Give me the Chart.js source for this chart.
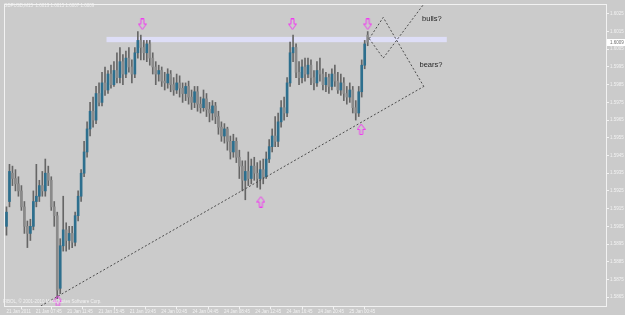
<!DOCTYPE html>
<html>
<head>
<meta charset="utf-8">
<script src="https://cdn.jsdelivr.net/npm/chart.js@4.4.0/dist/chart.umd.min.js"></script>
<style>
  html, body { margin: 0; padding: 0; background: #cbcbcb; }
  #chart { display: block; }
</style>
</head>
<body>
<canvas id="chart" width="625" height="315"></canvas>
<script>
// GBPUSD M15 candles: [open, high, low, close]
const ohlc = [
  [1.5905,1.5916,1.5900,1.5913],[1.5919,1.5940,1.5916,1.5936],[1.5935,1.5939,1.5928,1.5932],[1.5932,1.5937,1.5925,1.5929],
  [1.5929,1.5933,1.5922,1.5925],[1.5925,1.5928,1.5914,1.5916],[1.5916,1.5919,1.5901,1.5905],[1.5905,1.5908,1.5893,1.5901],
  [1.5901,1.5909,1.5897,1.5905],[1.5905,1.5925,1.5903,1.5919],[1.5919,1.5940,1.5916,1.5922],[1.5922,1.5931,1.5919,1.5928],
  [1.5928,1.5936,1.5922,1.5925],[1.5925,1.5943,1.5922,1.5935],[1.5935,1.5939,1.5928,1.5931],[1.5931,1.5933,1.5914,1.5916],
  [1.5916,1.5919,1.5905,1.5911],[1.5911,1.5913,1.5864,1.5869],[1.5870,1.5898,1.5867,1.5894],[1.5894,1.5922,1.5891,1.5903],
  [1.5903,1.5907,1.5891,1.5897],[1.5897,1.5905,1.5892,1.5901],[1.5901,1.5905,1.5893,1.5896],[1.5896,1.5913,1.5894,1.5911],
  [1.5911,1.5925,1.5908,1.5922],[1.5922,1.5937,1.5919,1.5935],[1.5935,1.5953,1.5933,1.5947],[1.5947,1.5964,1.5944,1.5960],
  [1.5960,1.5975,1.5956,1.5970],[1.5970,1.5978,1.5961,1.5965],[1.5965,1.5984,1.5963,1.5980],[1.5980,1.5986,1.5973,1.5975],
  [1.5975,1.5992,1.5973,1.5986],[1.5986,1.5995,1.5979,1.5982],[1.5982,1.5993,1.5980,1.5991],[1.5991,1.5996,1.5983,1.5985],
  [1.5985,1.5998,1.5984,1.5993],[1.5993,1.6003,1.5986,1.5989],[1.5989,1.6006,1.5986,1.5998],[1.5998,1.6002,1.5985,1.5991],
  [1.5991,1.6004,1.5989,1.6000],[1.6000,1.6006,1.5992,1.5995],[1.5995,1.5999,1.5986,1.5991],[1.5991,1.6006,1.5989,1.6003],
  [1.6003,1.6015,1.6000,1.6010],[1.6010,1.6013,1.5999,1.6006],[1.6006,1.6010,1.5999,1.6003],[1.6003,1.6010,1.5998,1.6008],
  [1.6008,1.6010,1.5996,1.6000],[1.6000,1.6003,1.5991,1.5995],[1.5995,1.5998,1.5985,1.5991],[1.5991,1.5996,1.5987,1.5993],
  [1.5993,1.5995,1.5984,1.5987],[1.5987,1.5992,1.5982,1.5986],[1.5986,1.5994,1.5983,1.5991],[1.5991,1.5993,1.5981,1.5985],
  [1.5985,1.5989,1.5979,1.5982],[1.5982,1.5991,1.5980,1.5986],[1.5986,1.5990,1.5978,1.5983],[1.5983,1.5986,1.5975,1.5980],
  [1.5980,1.5986,1.5976,1.5984],[1.5984,1.5987,1.5974,1.5978],[1.5978,1.5982,1.5971,1.5975],[1.5975,1.5984,1.5972,1.5981],
  [1.5981,1.5984,1.5970,1.5974],[1.5974,1.5978,1.5969,1.5972],[1.5972,1.5982,1.5970,1.5977],[1.5977,1.5980,1.5967,1.5971],
  [1.5971,1.5975,1.5964,1.5969],[1.5969,1.5976,1.5965,1.5973],[1.5973,1.5975,1.5963,1.5967],[1.5967,1.5970,1.5957,1.5961],
  [1.5961,1.5964,1.5953,1.5956],[1.5956,1.5963,1.5952,1.5960],[1.5960,1.5961,1.5948,1.5953],[1.5953,1.5956,1.5943,1.5947],
  [1.5947,1.5957,1.5944,1.5953],[1.5953,1.5955,1.5941,1.5944],[1.5944,1.5948,1.5932,1.5939],[1.5939,1.5942,1.5925,1.5931],
  [1.5931,1.5942,1.5920,1.5936],[1.5936,1.5947,1.5928,1.5932],[1.5932,1.5943,1.5929,1.5939],[1.5939,1.5944,1.5931,1.5935],
  [1.5935,1.5941,1.5927,1.5932],[1.5932,1.5942,1.5926,1.5937],[1.5937,1.5943,1.5929,1.5933],[1.5933,1.5947,1.5932,1.5943],
  [1.5943,1.5954,1.5941,1.5950],[1.5950,1.5960,1.5947,1.5956],[1.5956,1.5967,1.5950,1.5953],[1.5953,1.5969,1.5950,1.5964],
  [1.5964,1.5976,1.5961,1.5972],[1.5972,1.5978,1.5965,1.5969],[1.5969,1.5989,1.5967,1.5986],[1.5986,1.6009,1.5984,1.6003],
  [1.6003,1.6013,1.5998,1.6006],[1.6006,1.6008,1.5989,1.5992],[1.5992,1.5998,1.5985,1.5989],[1.5989,1.5999,1.5986,1.5995],
  [1.5995,1.6000,1.5987,1.5991],[1.5991,1.6000,1.5989,1.5996],[1.5996,1.5999,1.5985,1.5989],[1.5989,1.5993,1.5982,1.5986],
  [1.5986,1.5998,1.5984,1.5993],[1.5993,1.6000,1.5987,1.5991],[1.5991,1.5994,1.5982,1.5985],[1.5985,1.5992,1.5981,1.5989],
  [1.5989,1.5991,1.5980,1.5984],[1.5984,1.5994,1.5982,1.5991],[1.5991,1.5996,1.5984,1.5987],[1.5987,1.5992,1.5980,1.5982],
  [1.5982,1.5991,1.5979,1.5986],[1.5986,1.5989,1.5976,1.5980],[1.5980,1.5984,1.5974,1.5978],[1.5978,1.5986,1.5975,1.5982],
  [1.5982,1.5984,1.5969,1.5972],[1.5972,1.5976,1.5965,1.5969],[1.5969,1.5984,1.5967,1.5981],[1.5981,1.5999,1.5978,1.5996],
  [1.5996,1.6010,1.5994,1.6008],[1.6013,1.6015,1.6007,1.6009]
];

// right axis price ticks
const priceTicks = [1.5865, 1.5875, 1.5885, 1.5895, 1.5905, 1.5915, 1.5925, 1.5935, 1.5945,
                    1.5955, 1.5965, 1.5975, 1.5985, 1.5995, 1.6005, 1.6015, 1.6025];

// time axis labels, positioned on the bar index
const timeTickIdx = [0, 9.83, 20.33, 30.83, 41.33, 51.83, 62.33, 72.83, 83.33, 93.83, 104.33, 114.83];
const timeTickLabels = ['21 Jan 2011', '21 Jan 07:45', '21 Jan 11:45', '21 Jan 15:45', '21 Jan 19:45',
                        '24 Jan 00:45', '24 Jan 04:45', '24 Jan 08:45', '24 Jan 12:45', '24 Jan 16:45',
                        '24 Jan 20:45', '25 Jan 00:45'];

// resistance zone
const bandFrom = 33.5, bandTo = 147.5, bandHigh = 1.6012, bandLow = 1.6009;

// support trendline and the two scenarios
const trendline = [{x: 11.5, y: 1.5860}, {x: 139.8, y: 1.5984}];
const bearsPath = [{x: 121.5, y: 1.6011}, {x: 126.2, y: 1.6023}, {x: 139.8, y: 1.5984}];
const bullsPath = [{x: 121.5, y: 1.6011}, {x: 126.2, y: 1.6000}, {x: 140.0, y: 1.6031}];

// marker arrows
const arrowsDown = [{x: 45.5, y: 1.6019}, {x: 95.8, y: 1.6019}, {x: 121.0, y: 1.6019}];
const arrowsUp = [{x: 17.2, y: 1.5863}, {x: 85.2, y: 1.5919}, {x: 118.8, y: 1.5960}];

// notes
const notes = [{text: 'bulls?', x: 142.5, y: 1.6022}, {text: 'bears?', x: 142.2, y: 1.5996}];

const BG = '#cbcbcb';
const AXIS = '#f2f2f2';
const BULL = '#2d6f8e';
const BEAR = '#8a8a8a';
const WICK = '#666666';
const FONT = 'Liberation Sans';

// hollow magenta arrow as a point image
function makeArrow(down) {
    const c = document.createElement('canvas');
    c.width = 9; c.height = 12;
    const g = c.getContext('2d');
    g.strokeStyle = '#f03cf0';
    g.lineWidth = 1;
    g.beginPath();
    const pts = [[3, 0.5], [6, 0.5], [6, 5.5], [8.5, 5.5], [4.5, 11], [0.5, 5.5], [3, 5.5]];
    pts.forEach(function(p, i) {
        const y = down ? p[1] : 12 - p[1];
        if (i === 0) g.moveTo(p[0], y); else g.lineTo(p[0], y);
    });
    g.closePath();
    g.stroke();
    return c;
}

const lastBar = ohlc[ohlc.length - 1];

const mtPlugin = {
    id: 'mt',
    beforeDraw(chart) {
        const ctx = chart.ctx;
        ctx.save();
        ctx.fillStyle = BG;
        ctx.fillRect(0, 0, chart.width, chart.height);
        ctx.restore();
    },
    beforeDatasetsDraw(chart) {
        // lavender resistance band under the candles
        const ctx = chart.ctx, x = chart.scales.x, y = chart.scales.y;
        ctx.save();
        ctx.fillStyle = '#dedef7';
        const x0 = x.getPixelForValue(bandFrom), x1 = x.getPixelForValue(bandTo);
        const y0 = y.getPixelForValue(bandHigh), y1 = y.getPixelForValue(bandLow);
        ctx.fillRect(x0, y0, x1 - x0, y1 - y0);
        ctx.restore();
    },
    afterDraw(chart) {
        const ctx = chart.ctx, a = chart.chartArea, x = chart.scales.x, y = chart.scales.y;
        ctx.save();
        // frame
        ctx.strokeStyle = AXIS;
        ctx.lineWidth = 1;
        ctx.strokeRect(a.left - 0.5, a.top - 0.5, a.right - a.left + 1, a.bottom - a.top + 1);

        // notes
        ctx.fillStyle = '#262626';
        ctx.font = '7.5px "' + FONT + '"';
        ctx.textAlign = 'center';
        ctx.textBaseline = 'middle';
        notes.forEach(function(n) {
            ctx.fillText(n.text, x.getPixelForValue(n.x), y.getPixelForValue(n.y));
        });

        // header and copyright
        ctx.fillStyle = AXIS;
        ctx.font = '4.5px "' + FONT + '"';
        ctx.textAlign = 'left';
        ctx.fillText('GBPUSD,M15  ' + lastBar.map(function(v) { return v.toFixed(4); }).join(' '), 4, 6);
        ctx.fillText('FIBOL, \u00a9 2001-2010 MetaQuotes Software Corp.', 3, a.bottom - 4);

        // current price box
        const py = Math.round(y.getPixelForValue(lastBar[3]));
        ctx.fillStyle = '#ffffff';
        ctx.fillRect(a.right + 1, py - 3, chart.width - a.right - 1, 7);
        ctx.fillStyle = '#6e6e6e';
        ctx.fillText(lastBar[3].toFixed(4), a.right + 4, py + 0.5);
        ctx.restore();
    }
};

const ctx = document.getElementById('chart').getContext('2d');
new Chart(ctx, {
    type: 'bar',
    data: {
        datasets: [
            {
                type: 'line',
                data: arrowsDown,
                showLine: false,
                pointStyle: makeArrow(true),
                clip: false,
                order: -3
            },
            {
                type: 'line',
                data: arrowsUp,
                showLine: false,
                pointStyle: makeArrow(false),
                clip: false,
                order: -3
            },
            {
                type: 'line',
                data: trendline,
                borderColor: '#4d4d4d',
                borderWidth: 1,
                borderDash: [2, 2],
                pointRadius: 0,
                order: -2
            },
            {
                type: 'line',
                data: bearsPath,
                borderColor: '#4d4d4d',
                borderWidth: 1,
                borderDash: [2, 2],
                pointRadius: 0,
                order: -2
            },
            {
                type: 'line',
                data: bullsPath,
                borderColor: '#4d4d4d',
                borderWidth: 1,
                borderDash: [2, 2],
                pointRadius: 0,
                order: -2
            },
            {
                // candle bodies
                data: ohlc.map(function(c, i) { return {x: i, y: [c[0], c[3]]}; }),
                backgroundColor: ohlc.map(function(c) { return c[3] >= c[0] ? BULL : BEAR; }),
                barThickness: 2,
                minBarLength: 1,
                grouped: false,
                order: 0
            },
            {
                // wicks
                data: ohlc.map(function(c, i) { return {x: i, y: [c[2], c[1]]}; }),
                backgroundColor: WICK,
                barThickness: 1,
                grouped: false,
                order: 1
            }
        ]
    },
    options: {
        responsive: false,
        animation: false,
        events: [],
        devicePixelRatio: 1,
        layout: { padding: { left: 2, top: 2, right: 0, bottom: 0 } },
        plugins: { legend: { display: false }, tooltip: { enabled: false } },
        scales: {
            x: {
                type: 'linear',
                min: -0.5,
                max: 200.83,
                offset: false,
                grid: { drawOnChartArea: false, drawTicks: true, tickLength: 3, color: AXIS },
                border: { display: true, color: AXIS },
                ticks: {
                    color: AXIS,
                    font: { family: FONT, size: 4.5 },
                    align: 'start',
                    maxRotation: 0,
                    autoSkip: false,
                    padding: 0,
                    callback: function(v, i) { return timeTickLabels[i]; }
                },
                afterBuildTicks: function(axis) {
                    axis.ticks = timeTickIdx.map(function(v) { return {value: v}; });
                },
                afterFit: function(axis) { axis.height = 9; }
            },
            y: {
                position: 'right',
                min: 1.5860,
                max: 1.6030,
                grid: { drawOnChartArea: false, drawTicks: true, tickLength: 3, color: AXIS },
                border: { display: true, color: AXIS },
                ticks: {
                    color: AXIS,
                    font: { family: FONT, size: 4.5 },
                    padding: 1,
                    callback: function(v) { return v.toFixed(4); }
                },
                afterBuildTicks: function(axis) {
                    axis.ticks = priceTicks.map(function(v) { return {value: v}; });
                },
                afterFit: function(axis) { axis.width = 19; }
            }
        }
    },
    plugins: [mtPlugin]
});
</script>
</body>
</html>
